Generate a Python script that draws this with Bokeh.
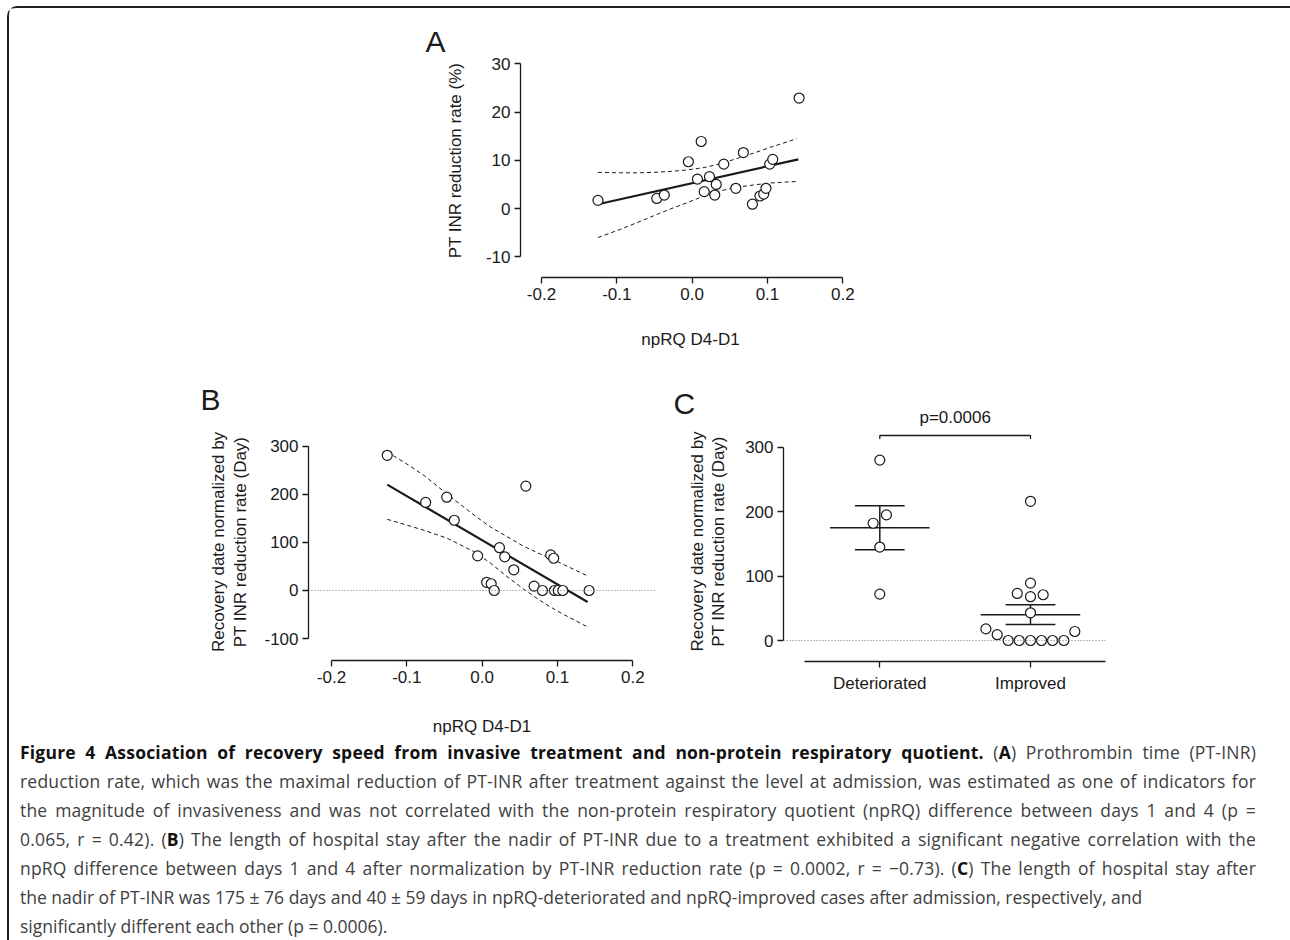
import math
from bokeh.plotting import figure
from bokeh.models import Range1d, FixedTicker, Label, Span, Div, NumeralTickFormatter
from bokeh.layouts import column, row
from bokeh.embed import file_html
from bokeh.resources import INLINE

# ---------------- data ----------------
# Panel A: PT-INR reduction rate vs npRQ D4-D1
npRQ_A = [-0.125, -0.047, -0.037, -0.005, 0.007, 0.012, 0.016, 0.023, 0.030, 0.032,
          0.042, 0.058, 0.068, 0.080, 0.090, 0.095, 0.098, 0.103, 0.107, 0.142]
ptinr_rate = [1.7, 2.1, 2.8, 9.7, 6.1, 13.9, 3.5, 6.6, 2.8, 5.0,
              9.2, 4.2, 11.6, 0.9, 2.6, 3.0, 4.2, 9.2, 10.2, 22.9]
fitA_x = [-0.125, 0.141]
fitA_y = [0.9, 10.2]
ciA_x = [-0.125, -0.095, -0.073, -0.051, -0.029, -0.007, 0.016, 0.038, 0.060, 0.082, 0.104, 0.126, 0.139]
ciA_upper = [7.5, 7.4, 7.4, 7.5, 7.7, 8.0, 8.5, 9.3, 10.4, 11.5, 12.7, 13.8, 14.5]
ciA_lower = [-6.0, -4.3, -2.9, -1.5, -0.1, 1.2, 2.6, 3.7, 4.4, 4.9, 5.3, 5.5, 5.6]
A_xticks = [-0.2, -0.1, 0.0, 0.1, 0.2]
A_yticks = [-10, 0, 10, 20, 30]

# Panel B: normalized recovery date vs npRQ D4-D1
npRQ_B = [-0.126, -0.075, -0.047, -0.037, -0.006, 0.006, 0.012, 0.016, 0.023, 0.030,
          0.042, 0.058, 0.069, 0.080, 0.091, 0.095, 0.096, 0.101, 0.107, 0.142]
recovery_B = [281, 183, 194, 146, 72, 17, 14, 0, 89, 70,
              43, 217, 9, 0, 74, 67, 0, 0, 0, 0]
fitB_x = [-0.126, 0.140]
fitB_y = [220, -24]
ciB_x = [-0.126, -0.100, -0.077, -0.047, -0.011, 0.011, 0.033, 0.055, 0.077, 0.100, 0.139]
ciB_upper = [288, 263, 239, 201, 157, 132, 112, 92, 76, 60, 31]
ciB_lower = [148, 136, 125, 109, 81, 57, 29, 3, -21, -43, -75]
B_xticks = [-0.2, -0.1, 0.0, 0.1, 0.2]
B_yticks = [-100, 0, 100, 200, 300]

# Panel C: groups
groups = ["Deteriorated", "Improved"]
det_vals = [280, 195, 182, 145, 72]
det_jitter = [0.0, 0.044, -0.044, 0.0, 0.0]
imp_vals = [216, 89, 73, 68, 71, 43, 18, 9, 0, 0, 0, 0, 0, 0, 14]
imp_jitter = [0.0, 0.0, -0.088, 0.0, 0.084, 0.0, -0.296, -0.221, -0.148, -0.075,
              0.0, 0.073, 0.146, 0.221, 0.294]
group_mean = [175, 40]
group_sem = [34, 15.3]
C_yticks = [0, 100, 200, 300]
p_text = "p=0.0006"

xlab = "npRQ D4-D1"
ylabA = "PT INR reduction rate (%)"
ylabBC = ["Recovery date normalized by", "PT INR reduction rate (Day)"]

B_ = "<b style='color:#111'>"
caption_lines = [
    B_ + "Figure 4 Association of recovery speed from invasive treatment and non-protein respiratory quotient.</b> (" + B_ + "A</b>) Prothrombin time (PT-INR)",
    "reduction rate, which was the maximal reduction of PT-INR after treatment against the level at admission, was estimated as one of indicators for",
    "the magnitude of invasiveness and was not correlated with the non-protein respiratory quotient (npRQ) difference between days 1 and 4 (p =",
    "0.065, r = 0.42). (" + B_ + "B</b>) The length of hospital stay after the nadir of PT-INR due to a treatment exhibited a significant negative correlation with the",
    "npRQ difference between days 1 and 4 after normalization by PT-INR reduction rate (p = 0.0002, r = \u22120.73). (" + B_ + "C</b>) The length of hospital stay after",
    "the nadir of PT-INR was 175 \u00b1 76 days and 40 \u00b1 59 days in npRQ-deteriorated and npRQ-improved cases after admission, respectively, and",
    "significantly different each other (p = 0.0006).",
]

# ---------------- styling / layout ----------------
FONT = "Liberation Sans"
INK = "#1a1a1a"
OX, OY = 9, 8            # page position of the layout content
RIGHT = 1288
TOTAL_W = RIGHT - OX
ROW_A_H, ROW_BC_H, CAP_H = 352, 378, 200
ROW_BC_TOP = OY + ROW_A_H


def mapper(p0, v0, p1, v1):
    k = (v1 - v0) / (p1 - p0)
    return lambda px: v0 + (px - p0) * k


def make_fig(left, top, width, height, fl, fr, ft, fb, mx, my):
    p = figure(width=width, height=height,
               x_range=Range1d(mx(fl), mx(fr)), y_range=Range1d(my(fb), my(ft)),
               min_border_left=fl - left, min_border_right=left + width - fr,
               min_border_top=ft - top, min_border_bottom=top + height - fb,
               output_backend="svg", toolbar_location=None, frame_align=False)
    p.outline_line_color = None
    p.xgrid.visible = False
    p.ygrid.visible = False
    p.background_fill_color = "white"
    p.border_fill_color = "white"
    for a in p.axis:
        a.axis_line_color = INK
        a.axis_line_width = 1.3
        a.major_tick_line_color = INK
        a.major_tick_line_width = 1.3
        a.major_tick_in = 0
        a.major_tick_out = 6
        a.minor_tick_line_color = None
        a.major_label_text_font = FONT
        a.major_label_text_font_size = "17px"
        a.major_label_text_color = INK
        a.major_label_standoff = 4
        a.axis_label_text_font = FONT
        a.axis_label_text_font_size = "17px"
        a.axis_label_text_font_style = "normal"
        a.axis_label_text_color = INK
    return p


def text_fig(left, top, width, height):
    p = figure(width=width, height=height, x_range=Range1d(0, width), y_range=Range1d(0, height),
               x_axis_location=None, y_axis_location=None, min_border=0,
               output_backend="svg", toolbar_location=None, frame_align=False)
    p.outline_line_color = None
    p.xgrid.visible = False
    p.ygrid.visible = False
    p.background_fill_color = "white"
    p.border_fill_color = "white"
    p._page = (left, top, height)
    return p


def put(p, px, py, text, size="17px", angle=0.0, align="center"):
    left, top, height = p._page
    p.add_layout(Label(x=px - left, y=height - (py - top), text=text, angle=angle,
                       text_align=align, text_baseline="middle", text_font=FONT,
                       text_font_size=size, text_color=INK))


def scatter_open(p, xs, ys):
    p.scatter(xs, ys, marker="circle", size=10, fill_color="white",
              line_color=INK, line_width=1.2)


VERT = math.pi / 2

# ---------- Row A ----------
TA_W = 462
tA = text_fig(OX, OY, TA_W, ROW_A_H)
put(tA, 425, 41, "A", size="30px", align="left")
put(tA, 455, 160, ylabA, angle=VERT)

ax = mapper(541.0, A_xticks[0], 842.3, A_xticks[-1])
ay = mapper(63.3, A_yticks[-1], 256.3, A_yticks[0])
pA = make_fig(OX + TA_W, OY, TOTAL_W - TA_W, ROW_A_H, 520, 860, 60, 277, ax, ay)
pA.xaxis.bounds = (A_xticks[0], A_xticks[-1])
pA.yaxis.bounds = (A_yticks[0], A_yticks[-1])
pA.xaxis.ticker = FixedTicker(ticks=A_xticks)
pA.yaxis.ticker = FixedTicker(ticks=A_yticks)
pA.xaxis.formatter = NumeralTickFormatter(format="0.0")
pA.yaxis.formatter = NumeralTickFormatter(format="0")
pA.xaxis.axis_label = xlab
pA.xaxis.axis_label_standoff = 27
pA.line(ciA_x, ciA_upper, line_color=INK, line_width=1, line_dash="4 3")
pA.line(ciA_x, ciA_lower, line_color=INK, line_width=1, line_dash="4 3")
pA.line(fitA_x, fitA_y, line_color=INK, line_width=2.2)
scatter_open(pA, npRQ_A, ptinr_rate)

# ---------- Row B / C ----------
TB_W, PB_W, TC_W = 246, 415, 65
tB = text_fig(OX, ROW_BC_TOP, TB_W, ROW_BC_H)
put(tB, 200, 398.5, "B", size="30px", align="left")
put(tB, 218.3, 541.5, ylabBC[0], angle=VERT)
put(tB, 240.0, 541.5, ylabBC[1], angle=VERT)

bx = mapper(331.0, B_xticks[0], 632.3, B_xticks[-1])
by = mapper(445.7, B_yticks[-1], 639.0, B_yticks[0])
pB = make_fig(OX + TB_W, ROW_BC_TOP, PB_W, ROW_BC_H, 308, 655, 440, 661, bx, by)
pB.xaxis.bounds = (B_xticks[0], B_xticks[-1])
pB.yaxis.bounds = (B_yticks[0], B_yticks[-1])
pB.xaxis.ticker = FixedTicker(ticks=B_xticks)
pB.yaxis.ticker = FixedTicker(ticks=B_yticks)
pB.xaxis.formatter = NumeralTickFormatter(format="0.0")
pB.yaxis.formatter = NumeralTickFormatter(format="0")
pB.xaxis.axis_label = xlab
pB.xaxis.axis_label_standoff = 31
pB.add_layout(Span(location=0, dimension="width", line_color="#777", line_width=1, line_dash="1 2"))
pB.line(ciB_x, ciB_upper, line_color=INK, line_width=1, line_dash="4 3")
pB.line(ciB_x, ciB_lower, line_color=INK, line_width=1, line_dash="4 3")
pB.line(fitB_x, fitB_y, line_color=INK, line_width=2.2)
scatter_open(pB, npRQ_B, recovery_B)

TC_LEFT = OX + TB_W + PB_W
tC = text_fig(TC_LEFT, ROW_BC_TOP, TC_W, ROW_BC_H)
put(tC, 673, 402.5, "C", size="30px", align="left")
put(tC, 696.7, 541.0, ylabBC[0], angle=VERT)
put(tC, 717.5, 541.0, ylabBC[1], angle=VERT)

cx = mapper(879.3, 1, 1030.0, 2)
cy = mapper(446.7, C_yticks[-1], 640.0, C_yticks[0])
PC_LEFT = TC_LEFT + TC_W
pC = make_fig(PC_LEFT, ROW_BC_TOP, RIGHT - PC_LEFT, ROW_BC_H, 783, 1105, 400, 661, cx, cy)
cats = [i + 1 for i in range(len(groups))]
pC.xaxis.bounds = (cats[0] - 0.5, cats[-1] + 0.5)
pC.yaxis.bounds = (C_yticks[0], C_yticks[-1])
pC.xaxis.ticker = FixedTicker(ticks=cats)
pC.xaxis.major_label_overrides = {c: g for c, g in zip(cats, groups)}
pC.yaxis.ticker = FixedTicker(ticks=C_yticks)
pC.yaxis.formatter = NumeralTickFormatter(format="0")
pC.xaxis.major_label_standoff = 6
pC.add_layout(Span(location=0, dimension="width", line_color="#777", line_width=1, line_dash="1 2"))

MEAN_HW, CAP_HW = 0.33, 0.165
hi = [m + s for m, s in zip(group_mean, group_sem)]
lo = [m - s for m, s in zip(group_mean, group_sem)]
pC.segment([c - MEAN_HW for c in cats], group_mean, [c + MEAN_HW for c in cats], group_mean,
           line_color=INK, line_width=1.5)
pC.segment(cats, lo, cats, hi, line_color=INK, line_width=1.5)
pC.segment([c - CAP_HW for c in cats], hi, [c + CAP_HW for c in cats], hi, line_color=INK, line_width=1.5)
pC.segment([c - CAP_HW for c in cats], lo, [c + CAP_HW for c in cats], lo, line_color=INK, line_width=1.5)
scatter_open(pC, [cats[0] + j for j in det_jitter], det_vals)
scatter_open(pC, [cats[1] + j for j in imp_jitter], imp_vals)

# significance bracket
BR_Y, BR_TICK = cy(435), cy(438.5)
pC.line([cats[0], cats[0], cats[1], cats[1]], [BR_TICK, BR_Y, BR_Y, BR_TICK], line_color=INK, line_width=1.3)
pC.add_layout(Label(x=(cats[0] + cats[1]) / 2, y=cy(417), text=p_text, text_align="center",
                    text_baseline="middle", text_font=FONT, text_font_size="17px", text_color=INK))

# ---------- Caption ----------
def cap_line(html, justify):
    if justify:
        st = "text-align:justify;text-align-last:justify;letter-spacing:0.2px;"
    else:
        st = "white-space:nowrap;"
    return "<div style='" + st + "'>" + html + "</div>"


inner = "".join(cap_line(l, i < 5) for i, l in enumerate(caption_lines))
cap_html = ("<div style=\"font-family:'Open Sans',sans-serif;font-size:17.5px;line-height:29px;"
            "color:#404040;width:1242px;padding:0 0 0 6px;position:relative;top:-5px;\">"
            + inner + "</div>")
cap = Div(text=cap_html, width=TOTAL_W, height=CAP_H)

layout = column(row(tA, pA), row(tB, pB, tC, pC), cap,
                styles={"border-top": "2px solid #222", "border-left": "2px solid #222",
                        "border-top-left-radius": "10px",
                        "margin-left": "7px", "margin-top": "6px"})

open("out.html", "w").write(file_html(layout, INLINE))
